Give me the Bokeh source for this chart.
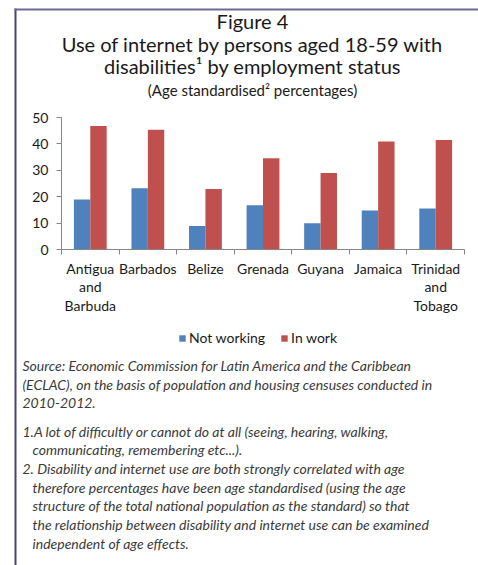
import numpy as np
from bokeh.plotting import figure
from bokeh.models import (ColumnDataSource, Range1d, FixedTicker, Label, Legend,
                          LegendItem, BoxAnnotation, LinearAxis)
from bokeh.transform import dodge
from bokeh.embed import file_html
from bokeh.resources import INLINE

# ---------------- data ----------------
categories = ["Antigua and Barbuda", "Barbados", "Belize", "Grenada",
              "Guyana", "Jamaica", "Trinidad and Tobago"]
tick_labels = ["Antigua\nand\nBarbuda", "Barbados", "Belize", "Grenada",
               "Guyana", "Jamaica", "Trinidad\nand\nTobago"]
not_working = [18.9, 23.2, 8.9, 16.8, 9.9, 14.8, 15.5]
in_work = [46.8, 45.4, 22.9, 34.6, 29.0, 40.9, 41.5]
series_names = ["Not working", "In work"]
series_colors = ["#4F81BD", "#C0504D"]
y_ticks = [0, 10, 20, 30, 40, 50]

title_lines = ["Figure 4",
               "Use of internet by persons aged 18-59 with",
               "disabilities\u00b9 by employment status"]
subtitle = "(Age standardised\u00b2 percentages)"
note_lines = [
    ("Source: Economic Commission for Latin America and the Caribbean", 0),
    ("(ECLAC), on the basis of population and housing censuses conducted in", 0),
    ("2010-2012.", 0),
    ("1.A lot of difficultly or cannot do at all (seeing, hearing, walking,", 0),
    ("communicating, remembering etc...).", 1),
    ("2. Disability and internet use are both strongly correlated with age", 0),
    ("therefore percentages have been age standardised (using the age", 1),
    ("structure of the total national population as the standard) so that", 1),
    ("the relationship between disability and internet use can be examined", 1),
    ("independent of age effects.", 1),
]

# ---------------- layout constants (page pixels) ----------------
W, H = 478, 565
FL, FR, FT, FB = 61, 464, 117, 249     # plotting area of the bar chart
YMAX = 50
FONT = "Lato"
TEXT = "#1a1a1a"
title_y = [20, 43, 65]
subtitle_y = 89
note_y = [365, 384, 402, 431, 449, 468, 487, 505, 524, 543]

n = len(categories)
centers = list(np.arange(n) + 0.5)
xs = n / (FR - FL)
ys = YMAX / (FB - FT)

p = figure(width=W, height=H,
           x_range=Range1d(-FL * xs, n + (W - FR) * xs),
           y_range=Range1d(-(H - FB) * ys, YMAX + FT * ys),
           output_backend="svg", toolbar_location=None,
           x_axis_location=None, y_axis_location=None,
           min_border=0, min_border_left=0, min_border_right=0,
           min_border_top=0, min_border_bottom=0)
p.background_fill_color = "white"
p.border_fill_color = "white"
p.outline_line_color = None
p.xgrid.grid_line_color = None
p.ygrid.grid_line_color = None
p.extra_x_ranges = {"px": Range1d(0, W)}
p.extra_y_ranges = {"px": Range1d(H, 0)}

# ---- bars ----
src = ColumnDataSource(dict(x=centers, cat=categories,
                            not_working=not_working, in_work=in_work))
bw = 0.285
r1 = p.vbar(x=dodge("x", -bw / 2), top="not_working", width=bw, source=src,
            fill_color=series_colors[0], line_color=None)
r2 = p.vbar(x=dodge("x", bw / 2), top="in_work", width=bw, source=src,
            fill_color=series_colors[1], line_color=None)

# ---- axes ----
axis_col = "#868686"
xa = LinearAxis(fixed_location=0, bounds=(0, n),
                ticker=FixedTicker(ticks=centers, minor_ticks=list(range(n + 1))))
xa.major_label_overrides = {c: t for c, t in zip(centers, tick_labels)}
xa.major_tick_out = 0
xa.major_tick_in = 0
xa.minor_tick_out = 5
xa.minor_tick_in = 0
xa.minor_tick_line_color = axis_col
xa.axis_line_color = axis_col
xa.major_label_text_font = FONT
xa.major_label_text_font_size = "14px"
xa.major_label_text_color = TEXT
xa.major_label_text_line_height = 1.1
xa.major_label_standoff = 5
p.add_layout(xa, "below")

ya = LinearAxis(fixed_location=0, bounds=(0, YMAX),
                ticker=FixedTicker(ticks=y_ticks, minor_ticks=[]))
ya.major_tick_out = 5
ya.major_tick_in = 0
ya.minor_tick_out = 0
ya.minor_tick_in = 0
ya.major_tick_line_color = axis_col
ya.axis_line_color = axis_col
ya.major_label_text_font = FONT
ya.major_label_text_font_size = "14px"
ya.major_label_text_color = TEXT
ya.major_label_standoff = 8
p.add_layout(ya, "left")

# ---- legend ----
legend = Legend(items=[LegendItem(label=series_names[0], renderers=[r1]),
                       LegendItem(label=series_names[1], renderers=[r2])],
                orientation="horizontal", location=(178, H - 346))
legend.glyph_width = 8
legend.glyph_height = 8
legend.label_standoff = 3
legend.spacing = 15
legend.padding = 0
legend.margin = 0
legend.label_height = 14
legend.border_line_color = None
legend.background_fill_alpha = 0
legend.label_text_font = FONT
legend.label_text_font_size = "14px"
legend.label_text_color = TEXT
p.add_layout(legend, "center")

# ---- box rules ----
p.add_layout(BoxAnnotation(left=14, right=16, top=8, bottom=H,
                           x_range_name="px", y_range_name="px",
                           fill_color="#44447f", fill_alpha=1, line_color=None))
p.add_layout(BoxAnnotation(left=14, right=W, top=8, bottom=10,
                           x_range_name="px", y_range_name="px",
                           fill_color="#6a6a98", fill_alpha=1, line_color=None))

# ---- titles ----
cx = 252
for txt, yy in zip(title_lines, title_y):
    p.add_layout(Label(x=cx, y=yy, text=txt, x_range_name="px", y_range_name="px",
                       text_align="center", text_baseline="middle",
                       text_font=FONT, text_font_size="20px", text_color=TEXT))
p.add_layout(Label(x=cx, y=subtitle_y, text=subtitle, x_range_name="px", y_range_name="px",
                   text_align="center", text_baseline="middle",
                   text_font=FONT, text_font_size="15px", text_color=TEXT))

# ---- notes ----
for (txt, indent), yy in zip(note_lines, note_y):
    p.add_layout(Label(x=22 + 10 * indent, y=yy, text=txt,
                       x_range_name="px", y_range_name="px",
                       text_align="left", text_baseline="middle",
                       text_font=FONT, text_font_style="italic",
                       text_font_size="14px", text_color="#3a3a3a"))

open("out.html", "w").write(file_html(p, INLINE))
